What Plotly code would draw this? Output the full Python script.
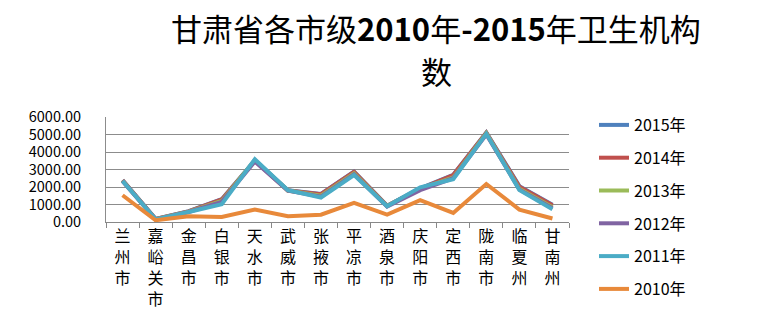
import plotly.graph_objects as go

categories = ["兰州市", "嘉峪关市", "金昌市", "白银市", "天水市", "武威市", "张掖市",
              "平凉市", "酒泉市", "庆阳市", "定西市", "陇南市", "临夏州", "甘南州"]

y2015 = [2400, 180, 620, 1300, 3520, 1810, 1600, 2880, 930, 1920, 2700, 5120, 2050, 980]
y2014 = [2380, 170, 600, 1290, 3500, 1800, 1590, 2870, 920, 1900, 2680, 5100, 2010, 960]
y2013 = [2360, 160, 590, 1200, 3540, 1800, 1500, 2780, 910, 1900, 2550, 5060, 1900, 850]
y2012 = [2330, 150, 570, 1150, 3450, 1790, 1450, 2720, 880, 1820, 2500, 5000, 1850, 780]
y2011 = [2340, 150, 575, 1020, 3590, 1820, 1400, 2680, 900, 1980, 2450, 5040, 1820, 730]
y2010 = [1530, 100, 330, 290, 710, 330, 420, 1090, 420, 1250, 520, 2170, 710, 200]

series_names = ["2015年", "2014年", "2013年", "2012年", "2011年", "2010年"]
series_values = [y2015, y2014, y2013, y2012, y2011, y2010]
colors = ["#4F81BD", "#C0504D", "#9BBB59", "#8064A2", "#4BACC6", "#E8893A"]

tick_vals = [0, 1000, 2000, 3000, 4000, 5000, 6000]
tick_text = ["0.00", "1000.00", "2000.00", "3000.00", "4000.00", "5000.00", "6000.00"]

title_line1 = "甘肃省各市级<b>2010</b>年<b>-2015</b>年卫生机构"
title_line2 = "数"

# vertical (stacked) category labels
x_labels = ["<br>".join(list(c)) for c in categories]

FONT = "Noto Sans CJK SC"
W, H = 772, 315
PLOT_L, PLOT_R = 106, 569
PLOT_TOP, PLOT_BOTTOM = 117, 222
PLOT_H = PLOT_BOTTOM - PLOT_TOP
PLOT_W = PLOT_R - PLOT_L


def py(pixel_y):
    return (PLOT_BOTTOM - pixel_y) / PLOT_H


def px(pixel_x):
    return (pixel_x - PLOT_L) / PLOT_W


fig = go.Figure()
for name, vals, col in zip(series_names, series_values, colors):
    fig.add_trace(go.Scatter(
        x=categories, y=vals, mode="lines", name=name, legendgroup=name,
        line=dict(color=col, width=4),
    ))

fig.update_layout(
    width=W, height=H,
    margin=dict(l=PLOT_L, r=W - PLOT_R, t=PLOT_TOP, b=H - PLOT_BOTTOM, autoexpand=False),
    paper_bgcolor="white", plot_bgcolor="white",
    font=dict(family=FONT, color="#000000", size=13),
    showlegend=True,
    legend=dict(
        x=px(594), xanchor="left", y=py(108), yanchor="top",
        font=dict(family=FONT, size=16, color="#000000"),
        tracegroupgap=9, bgcolor="rgba(0,0,0,0)",
        itemwidth=30, maxheight=300,
    ),
    annotations=[
        dict(text=title_line1, x=px(436), xref="paper", y=py(28), yref="paper",
             xanchor="center", yanchor="middle", showarrow=False,
             font=dict(family=FONT, size=31, color="#000000")),
        dict(text=title_line2, x=px(436), xref="paper", y=py(70), yref="paper",
             xanchor="center", yanchor="middle", showarrow=False,
             font=dict(family=FONT, size=31, color="#000000")),
    ],
)

fig.update_xaxes(
    type="category", automargin=False,
    range=[-0.5, len(categories) - 0.5],
    tickmode="array", tickvals=categories, ticktext=x_labels,
    tickangle=0,
    tickson="boundaries", ticks="outside", ticklen=5, tickcolor="#888888",
    showline=True, linecolor="#888888", linewidth=1,
    showgrid=False,
    tickfont=dict(family=FONT, size=16, color="#000000"),
)
fig.update_yaxes(
    range=[0, 6000], automargin=False,
    tickmode="array", tickvals=tick_vals, ticktext=tick_text,
    showgrid=True, gridcolor="#8c8c8c", gridwidth=1,
    showline=True, linecolor="#8c8c8c", linewidth=1,
    ticks="", ticklabelstandoff=21,
    tickfont=dict(family=FONT, size=14.5, color="#000000"),
    zeroline=False,
)

fig.write_html("out.html", config={"displayModeBar": False},
               post_script="document.body.style.margin='0';")
